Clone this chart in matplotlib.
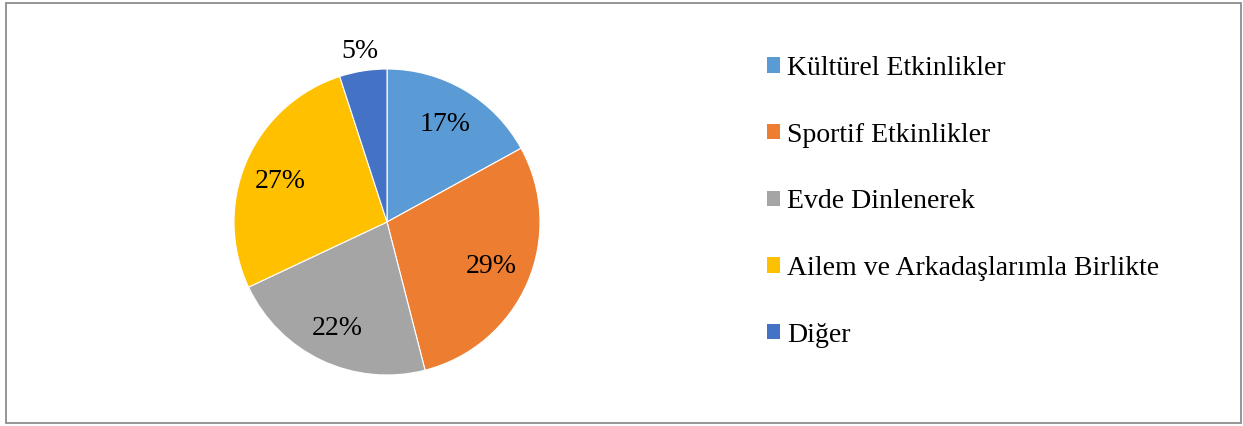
import numpy as np
import matplotlib
matplotlib.use("Agg")
import matplotlib.pyplot as plt
from matplotlib.patches import Patch, Rectangle

plt.rcParams['font.family'] = ['Liberation Serif', 'DejaVu Serif']

labels = ["Kültürel Etkinlikler", "Sportif Etkinlikler", "Evde Dinlenerek",
          "Ailem ve Arkadaşlarımla Birlikte", "Diğer"]
values = [17, 29, 22, 27, 5]
colors = ["#5B9BD5", "#ED7D31", "#A5A5A5", "#FFC000", "#4472C4"]

# radial distance of each % label (fraction of radius), small slice sits outside
label_dist = [0.74, 0.74, 0.77, 0.76, 1.13]

W, H = 1243, 426
fig = plt.figure(figsize=(W / 100, H / 100), dpi=100)

# outer frame
fig.patches.append(Rectangle((6 / W, 3 / H), 1235 / W, 420 / H, transform=fig.transFigure,
                             fill=False, edgecolor="#8c8c8c", linewidth=1.3))

cx, cy, r = 387, 222, 153
ax = fig.add_axes([(cx - r) / W, (H - cy - r) / H, 2 * r / W, 2 * r / H])
wedges, texts, autotexts = ax.pie(values, colors=colors, startangle=90, counterclock=False,
                                  autopct=lambda p: "%d%%" % round(p), pctdistance=0.74,
                                  wedgeprops=dict(edgecolor="white", linewidth=0.8),
                                  textprops=dict(fontsize=20, color="black"))
ax.set_xlim(-1, 1)
ax.set_ylim(-1, 1)
ax.set_aspect("equal")

for w, t, d in zip(wedges, autotexts, label_dist):
    ang = np.deg2rad((w.theta1 + w.theta2) / 2)
    t.set_position((d * np.cos(ang), d * np.sin(ang)))
# Excel nudges the left label a little lower
autotexts[3].set_position((autotexts[3].get_position()[0], autotexts[3].get_position()[1] - 0.04))

handles = [Patch(facecolor=c, edgecolor="none") for c in colors]
fig.legend(handles, labels, loc="upper left", bbox_to_anchor=(767 / W, 1 - 56 / H),
           frameon=False, fontsize=20, handlelength=0.47, handleheight=0.47,
           handletextpad=0.25, labelspacing=1.5, borderaxespad=0, borderpad=0)

fig.savefig("out.png", dpi=100)
